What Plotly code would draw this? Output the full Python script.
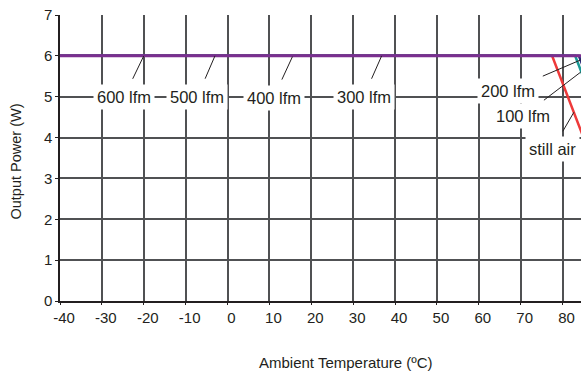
import plotly.graph_objects as go

# ---- data ----
temps_300_600 = [-40, 85]
power_300_600 = [6, 6]

temps_200 = [-40, 83.9, 106.4]
power_200 = [6, 6, 0]

temps_100 = [-40, 83.0, 105.5]
power_100 = [6, 6, 0]

temps_still = [-40, 77.5, 100]
power_still = [6, 6, 0]

x_ticks = [-40, -30, -20, -10, 0, 10, 20, 30, 40, 50, 60, 70, 80]
y_ticks = [0, 1, 2, 3, 4, 5, 6, 7]

label_texts = ["600 lfm", "500 lfm", "400 lfm", "300 lfm", "200 lfm", "100 lfm", "still air"]

FONT = "Liberation Sans, Arial, sans-serif"
TXT = "#231f20"
GRID = "#505153"

fig = go.Figure()
fig.add_trace(go.Scatter(x=temps_still, y=power_still, mode="lines",
                         line=dict(color="#ee3a3a", width=2.5), name="still air"))
fig.add_trace(go.Scatter(x=temps_100, y=power_100, mode="lines",
                         line=dict(color="#1b9a96", width=2.5), name="100 lfm"))
fig.add_trace(go.Scatter(x=temps_200, y=power_200, mode="lines",
                         line=dict(color="#2b2a78", width=2.5), name="200 lfm"))
fig.add_trace(go.Scatter(x=temps_300_600, y=power_300_600, mode="lines",
                         line=dict(color="#7b2f8f", width=3), name="300-600 lfm"))

# label placement (layout): tail = label centre, head = point on curve
label_pos = [(-24.7, 5.0), (-7.2, 5.0), (11.0, 4.98), (32.5, 5.0),
             (67.0, 5.14), (70.5, 4.52), (77.6, 3.72)]
head_pos = [(-20, 6), (-3, 6), (15.5, 5.98), (36.8, 6),
            (84.3, 5.9), (84.3, 5.6), (82.7, 4.62)]

for t, (lx, ly), (hx, hy) in zip(label_texts, label_pos, head_pos):
    fig.add_annotation(x=hx, y=hy, ax=lx, ay=ly, xref="x", yref="y", axref="x", ayref="y",
                       text=t, showarrow=True, arrowhead=0, arrowwidth=1, arrowcolor="#231f20",
                       startstandoff=6, bgcolor="white", borderpad=3,
                       font=dict(family=FONT, size=16.5, color=TXT))

# axis titles
fig.add_annotation(text="Ambient Temperature (ºC)", xref="paper", yref="paper",
                   x=(346 - 60) / 521, y=0, xanchor="center", yanchor="middle", yshift=-61,
                   showarrow=False, font=dict(family=FONT, size=15, color=TXT))
fig.add_annotation(text="Output Power (W)", xref="paper", yref="paper",
                   x=0, xshift=-45, y=(301 - 161.5) / 286, xanchor="center", yanchor="middle",
                   textangle=-90, showarrow=False,
                   font=dict(family=FONT, size=14.5, color=TXT))

fig.update_layout(
    width=581, height=373,
    margin=dict(l=60, r=0, t=15, b=72),
    plot_bgcolor="white", paper_bgcolor="white",
    showlegend=False,
    font=dict(family=FONT, size=15, color=TXT),
)
fig.update_xaxes(range=[-40, 84.4], tickvals=x_ticks, ticktext=[str(v) for v in x_ticks],
                 showgrid=True, gridcolor=GRID, gridwidth=1.5, zeroline=False,
                 showline=True, linecolor="#231f20", linewidth=1.5,
                 ticks="outside", ticklen=2, tickcolor="#231f20", ticklabelshift=4,
                 tickfont=dict(family=FONT, size=15, color=TXT))
fig.update_yaxes(range=[0, 7], tickvals=y_ticks,
                 showgrid=True, gridcolor=GRID, gridwidth=1.5, zeroline=False,
                 showline=True, linecolor="#231f20", linewidth=1.5,
                 ticks="outside", ticklen=3, tickcolor="#231f20",
                 tickfont=dict(family=FONT, size=15, color=TXT))

fig.write_html("out.html", config={"displayModeBar": False},
               post_script="document.body.style.margin='0';")
